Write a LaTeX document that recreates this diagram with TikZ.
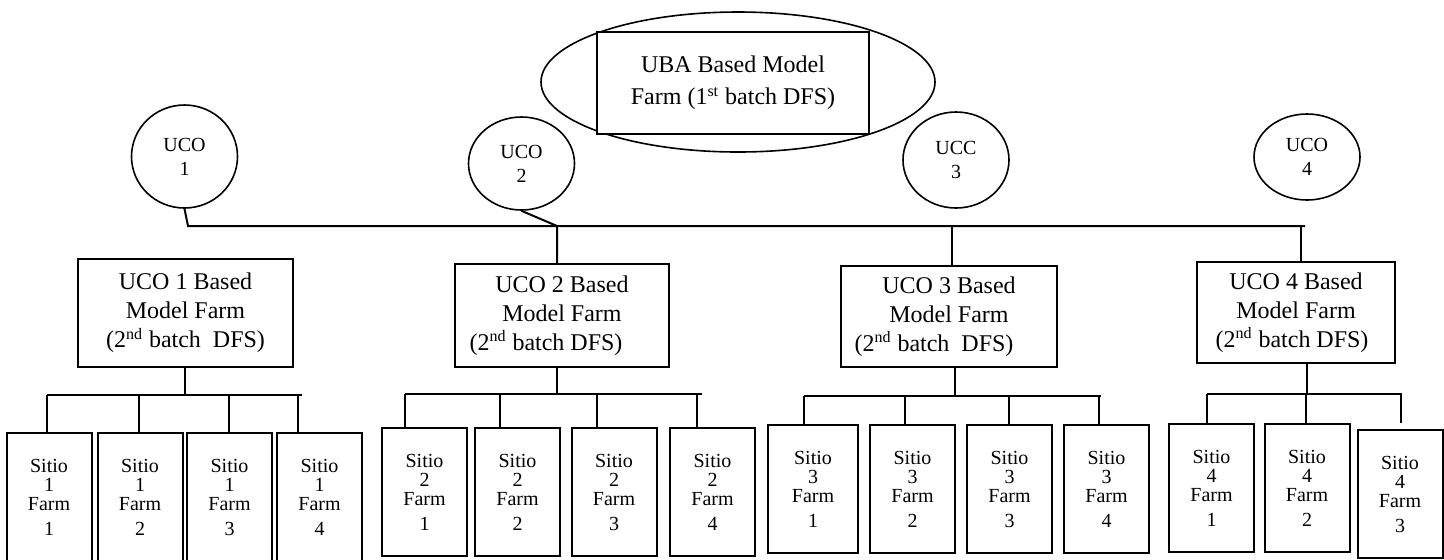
\documentclass[tikz,border=0pt]{standalone}
\usepackage{fontspec}
\setmainfont{Liberation Serif}
\usetikzlibrary{positioning,shapes.geometric}

\begin{document}
\begin{tikzpicture}[x=0.5pt, y=-0.5pt, line width=1pt,
  uco/.style={draw, ellipse, line width=0.8pt, inner sep=0pt, minimum width=53pt, align=center, font=\fontsize{10}{12}\selectfont},
  model/.style={draw, rectangle, fill=white, align=center, font=\fontsize{12}{14.5}\selectfont},
  farm/.style={draw, rectangle, minimum width=42.5pt, minimum height=64pt, inner sep=0pt, align=center, font=\fontsize{10}{9.5}\selectfont}]
  \useasboundingbox (0,0) rectangle (1444,559);

  \node[draw, ellipse, line width=0.8pt, minimum width=197pt, minimum height=70pt] (ubaoval) at (738,82) {};
  \node[model, minimum width=136pt, minimum height=51pt, font=\fontsize{12}{16}\selectfont] (uba) at (733,83) {UBA Based Model\\Farm (1\textsuperscript{st} batch DFS)};

  \node[uco, minimum height=51.5pt] (uco1) at (184.5,156.5) {UCO\\1};
  \node[uco, minimum height=46.5pt] (uco2) at (521.5,163.5) {UCO\\2};
  \node[uco, minimum height=48pt] (uco3) at (956,160) {UCC\\3};
  \node[uco, minimum height=43pt] (uco4) at (1307,157) {UCO\\4};

  \node[model, minimum width=107.5pt, minimum height=54pt] (m1) at (185.5,313) {UCO 1 Based\\Model Farm\\(2\textsuperscript{nd} batch\ \ DFS)};
  \node[model, minimum width=107pt, minimum height=51.5pt] (m2) at (562,315.5) {UCO 2 Based\\Model Farm\\(2\textsuperscript{nd} batch DFS)\hspace*{16pt}};
  \node[model, minimum width=108pt, minimum height=50.5pt] (m3) at (949,316.5) {UCO 3 Based\\Model Farm\\(2\textsuperscript{nd} batch\ \ DFS)\hspace*{15pt}};
  \node[model, minimum width=99pt, minimum height=50.5pt] (m4) at (1296,312.5) {UCO 4 Based\\Model Farm\\(2\textsuperscript{nd} batch DFS)\hspace*{4pt}};

  \node[farm] (s11) at (49,497) {Sitio\\1\\Farm\\[3pt]1};
  \node[farm] (s12) at (140,497) {Sitio\\1\\Farm\\[3pt]2};
  \node[farm] (s13) at (229.5,497) {Sitio\\1\\Farm\\[3pt]3};
  \node[farm] (s14) at (319.5,497) {Sitio\\1\\Farm\\[3pt]4};
  \node[farm] (s21) at (424.5,492) {Sitio\\2\\Farm\\[3pt]1};
  \node[farm] (s22) at (517.5,492) {Sitio\\2\\Farm\\[3pt]2};
  \node[farm] (s23) at (614,492) {Sitio\\2\\Farm\\[3pt]3};
  \node[farm] (s24) at (712.5,492) {Sitio\\2\\Farm\\[3pt]4};
  \node[farm, minimum width=45pt] (s31) at (813,489) {Sitio\\3\\Farm\\[3pt]1};
  \node[farm] (s32) at (912.5,489) {Sitio\\3\\Farm\\[3pt]2};
  \node[farm] (s33) at (1009.5,489) {Sitio\\3\\Farm\\[3pt]3};
  \node[farm] (s34) at (1106.5,489) {Sitio\\3\\Farm\\[3pt]4};
  \node[farm] (s41) at (1211.5,488) {Sitio\\4\\Farm\\[3pt]1};
  \node[farm] (s42) at (1307,488) {Sitio\\4\\Farm\\[3pt]2};
  \node[farm] (s43) at (1400,494) {Sitio\\4\\Farm\\[3pt]3};

  % main bus under the UCO circles
  \coordinate (busL) at (188,226);
  \coordinate (busR) at (1305,226);
  \coordinate (j2) at (557,226);
  \coordinate (j3) at (952,226);
  \coordinate (j4) at (1301,226);
  \draw (uco1.south) -- (busL) -- (busR);
  \draw (uco2.south) -- (j2) -- (j2 |- m2.north);
  \draw (j3) -- (j3 |- m3.north);
  \draw (j4) -- (j4 |- m4.north);

  % sitio farm buses
  \coordinate (h1) at (185,395);
  \coordinate (d11) at (47,395);
  \coordinate (d12) at (139,395);
  \coordinate (d13) at (229,395);
  \coordinate (d14) at (298,395);
  \coordinate (e1) at (302,395);
  \draw (h1 |- m1.south) -- (h1);
  \draw (d11) -- (e1);
  \draw (d11) -- (d11 |- s11.north) (d12) -- (d12 |- s12.north) (d13) -- (d13 |- s13.north) (d14) -- (d14 |- s14.north);

  \coordinate (h2) at (557,394);
  \coordinate (d21) at (405,394);
  \coordinate (d22) at (500,394);
  \coordinate (d23) at (597,394);
  \coordinate (d24) at (697,394);
  \coordinate (e2) at (702,394);
  \draw (h2 |- m2.south) -- (h2);
  \draw (d21) -- (e2);
  \draw (d21) -- (d21 |- s21.north) (d22) -- (d22 |- s22.north) (d23) -- (d23 |- s23.north) (d24) -- (d24 |- s24.north);

  \coordinate (h3) at (955,396);
  \coordinate (d31) at (804,396);
  \coordinate (d32) at (905,396);
  \coordinate (d33) at (1009,396);
  \coordinate (d34) at (1099,396);
  \coordinate (e3) at (1101,396);
  \draw (h3 |- m3.south) -- (h3);
  \draw (d31) -- (e3);
  \draw (d31) -- (d31 |- s31.north) (d32) -- (d32 |- s32.north) (d33) -- (d33 |- s33.north) (d34) -- (d34 |- s34.north);

  \coordinate (h4) at (1307,394);
  \coordinate (d41) at (1207,394);
  \coordinate (d42) at (1306,394);
  \coordinate (d43) at (1401,394);
  \coordinate (e4) at (1402,394);
  \draw (h4 |- m4.south) -- (h4);
  \draw (d41) -- (e4);
  \draw (d41) -- (d41 |- s41.north) (d42) -- (d42 |- s42.north);
  \draw[shorten >=3pt] (d43) -- (d43 |- s43.north);
\end{tikzpicture}
\end{document}
